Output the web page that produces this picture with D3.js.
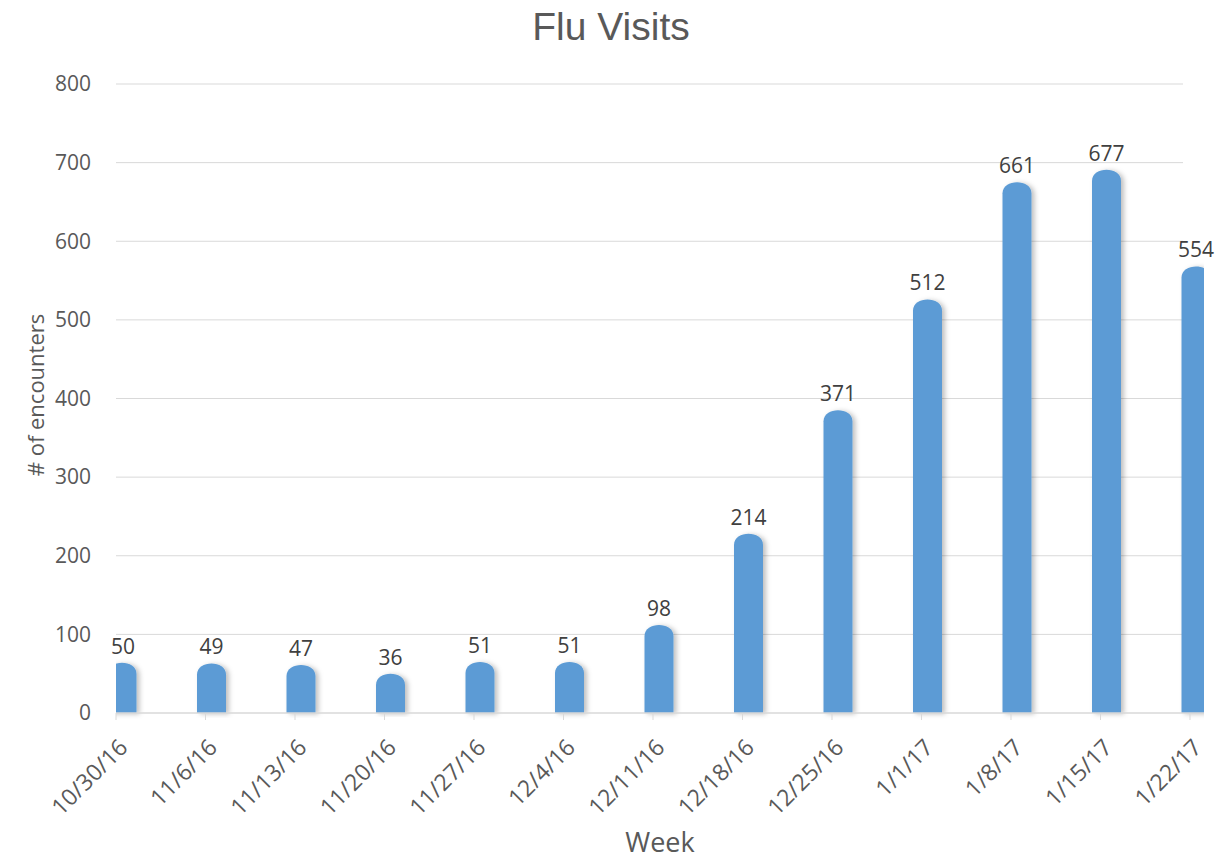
<!DOCTYPE html>
<html>
<head>
<meta charset="utf-8">
<script src="https://cdn.jsdelivr.net/npm/d3@7"></script>
<style>
  body { margin: 0; background: #fff; }
  text { font-family: "Open Sans", "Noto Sans", sans-serif; fill: #595959; }
</style>
</head>
<body>
<div id="chart"></div>
<script>
// data
var weeks = ["10/30/16", "11/6/16", "11/13/16", "11/20/16", "11/27/16", "12/4/16",
             "12/11/16", "12/18/16", "12/25/16", "1/1/17", "1/8/17", "1/15/17", "1/22/17"];
var visits = [50, 49, 47, 36, 51, 51, 98, 214, 371, 512, 661, 677, 554];
var yTicks = [0, 100, 200, 300, 400, 500, 600, 700, 800];

var W = 1224, H = 861;
var plotL = 116, plotR = 1204, plotT = 84, plotB = 713;
var barW = 29, barShift = 6, capH = 11;

var svg = d3.select('#chart').append('svg')
    .attr('width', W)
    .attr('height', H);

var x = d3.scalePoint()
    .domain(weeks)
    .range([plotL, 1190]);

var y = d3.scaleLinear()
    .domain([0, 800])
    .range([plotB, plotT]);

var defs = svg.append('defs');
defs.append('clipPath').attr('id', 'plotclip')
  .append('rect')
    .attr('x', plotL).attr('y', 0)
    .attr('width', plotR - plotL).attr('height', H);

var shadow = defs.append('filter').attr('id', 'shadow')
    .attr('x', '-30%').attr('y', '-10%').attr('width', '170%').attr('height', '120%');
shadow.append('feDropShadow')
    .attr('dx', 3).attr('dy', 1).attr('stdDeviation', 2.5)
    .attr('flood-color', '#000').attr('flood-opacity', 0.25);

// title
svg.append('text')
    .attr('x', 611).attr('y', 40)
    .attr('text-anchor', 'middle')
    .style('font-family', '"Liberation Sans", Arial, sans-serif')
    .style('font-size', '39px')
    .text('Flu Visits');

// gridlines + y labels
svg.append('g').selectAll('line')
    .data(yTicks.filter(function(d) { return d > 0; }))
    .enter().append('line')
    .attr('x1', plotL).attr('x2', 1183)
    .attr('y1', function(d) { return y(d); })
    .attr('y2', function(d) { return y(d); })
    .attr('stroke', '#d9d9d9').attr('stroke-width', 1);

svg.append('g').selectAll('text')
    .data(yTicks)
    .enter().append('text')
    .attr('x', 91)
    .attr('y', function(d) { return y(d); })
    .attr('dy', '0.35em')
    .attr('text-anchor', 'end')
    .style('font-size', '21px')
    .text(function(d) { return d; });

// bars with rounded caps
var bars = svg.append('g').attr('clip-path', 'url(#plotclip)');
bars.selectAll('path')
    .data(visits)
    .enter().append('path')
    .attr('fill', '#5b9bd5')
    .attr('filter', 'url(#shadow)')
    .attr('d', function(d, i) {
        var cx = x(weeks[i]) + barShift, x0 = cx - barW / 2, x1 = cx + barW / 2;
        var yt = y(d);
        return 'M' + x0 + ',' + plotB +
               'L' + x0 + ',' + yt +
               'C' + x0 + ',' + (yt - capH * 1.33) + ' ' + x1 + ',' + (yt - capH * 1.33) + ' ' + x1 + ',' + yt +
               'L' + x1 + ',' + plotB + 'Z';
    });

// baseline and ticks
svg.append('line')
    .attr('x1', plotL).attr('x2', plotR)
    .attr('y1', plotB).attr('y2', plotB)
    .attr('stroke', '#d9d9d9').attr('stroke-width', 1.5);

svg.append('g').selectAll('line')
    .data(weeks)
    .enter().append('line')
    .attr('x1', function(d) { return x(d); })
    .attr('x2', function(d) { return x(d); })
    .attr('y1', plotB).attr('y2', plotB + 7)
    .attr('stroke', '#d9d9d9');

// value labels
svg.append('g').selectAll('text')
    .data(visits)
    .enter().append('text')
    .attr('x', function(d, i) { return Math.max(x(weeks[i]) + barShift, 123); })
    .attr('y', function(d) { return y(d) - capH - 9; })
    .attr('text-anchor', 'middle')
    .style('font-size', '21px')
    .style('fill', '#404040')
    .text(function(d) { return d; });

// x labels
svg.append('g').selectAll('text')
    .data(weeks)
    .enter().append('text')
    .attr('transform', function(d) { return 'translate(' + (x(d) + 13) + ',' + 749 + ') rotate(-45)'; })
    .attr('text-anchor', 'end')
    .style('font-size', '23px')
    .text(function(d) { return d; });

// axis titles
svg.append('text')
    .attr('x', 660).attr('y', 852)
    .attr('text-anchor', 'middle')
    .style('font-size', '27px')
    .text('Week');

svg.append('text')
    .attr('transform', 'translate(44,' + 395 + ') rotate(-90)')
    .attr('text-anchor', 'middle')
    .style('font-size', '22px')
    .text('# of encounters');
</script>
</body>
</html>
